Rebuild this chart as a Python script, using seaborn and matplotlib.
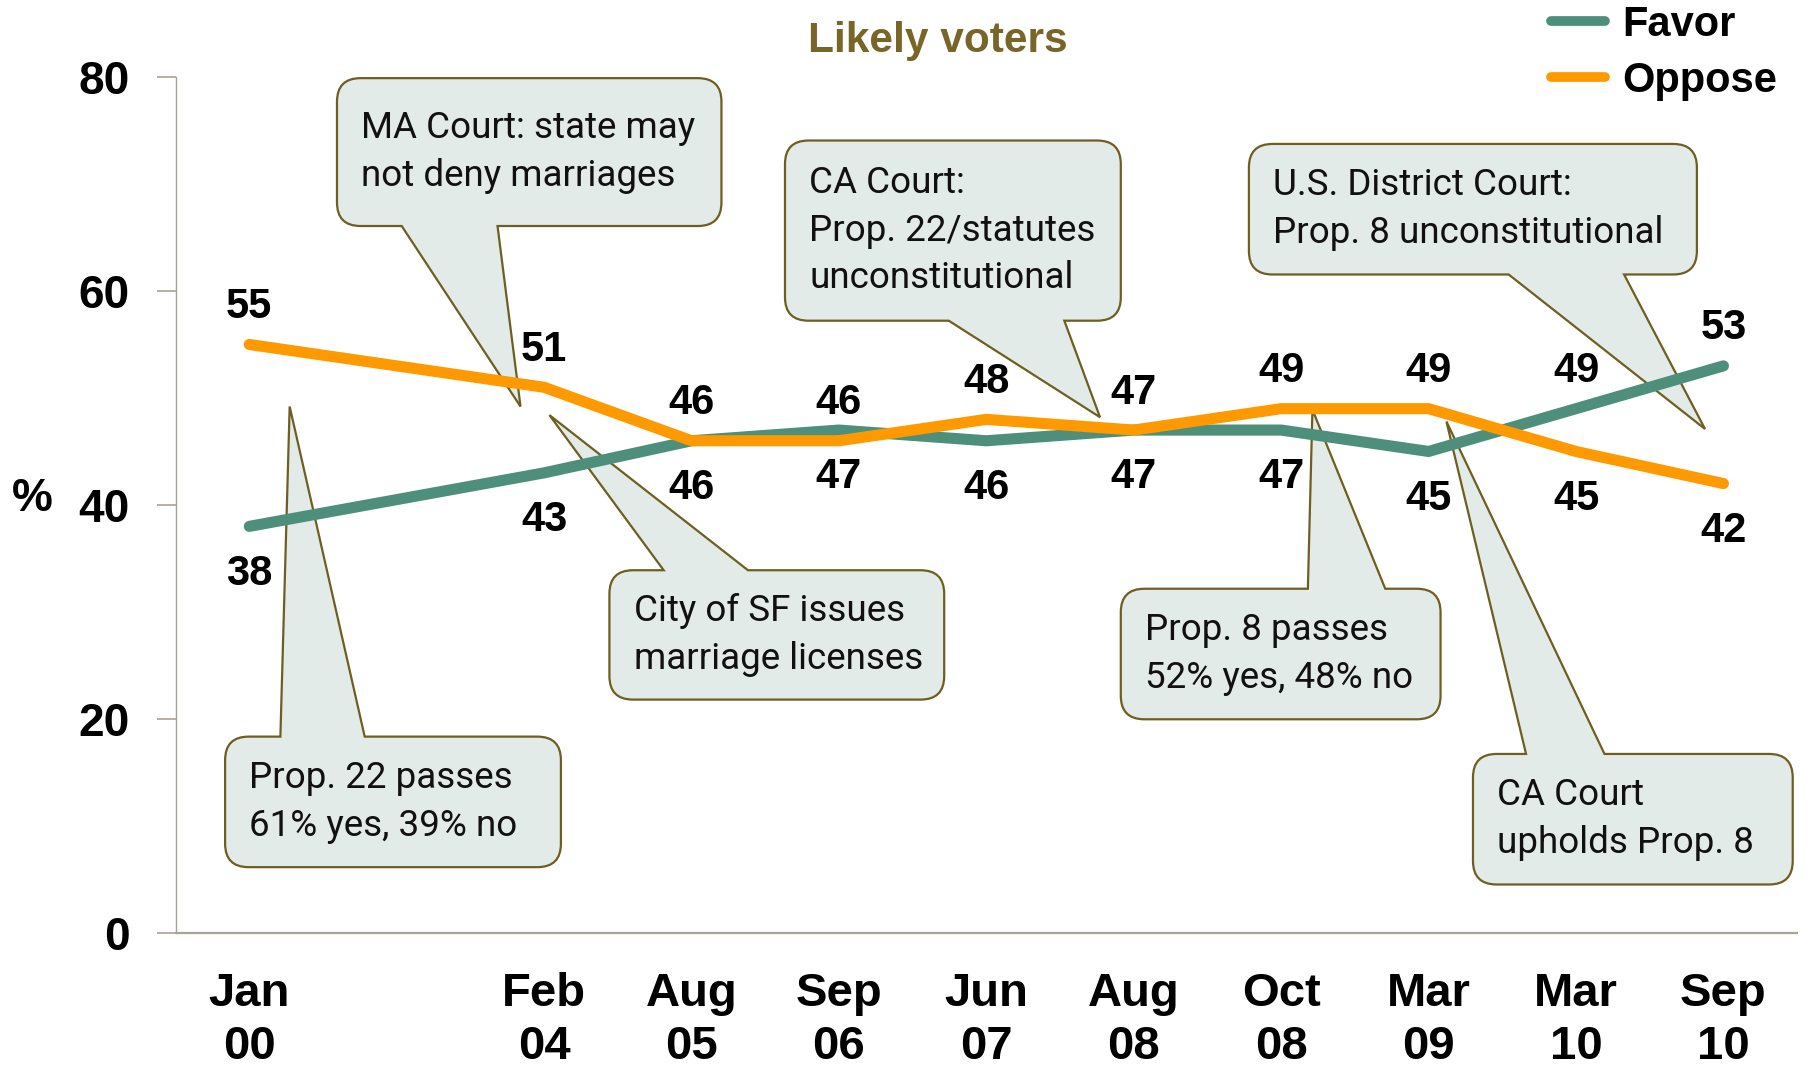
import matplotlib
matplotlib.use("Agg")
import matplotlib.pyplot as plt
from matplotlib.path import Path
from matplotlib.patches import PathPatch
import seaborn as sns
import pandas as pd
import numpy as np

# ---------------- data ----------------
categories = ["Jan\n00", "", "Feb\n04", "Aug\n05", "Sep\n06", "Jun\n07",
              "Aug\n08", "Oct\n08", "Mar\n09", "Mar\n10", "Sep\n10"]
favor = [38, None, 43, 46, 47, 46, 47, 47, 45, 49, 53]
oppose = [55, None, 51, 46, 46, 48, 47, 49, 49, 45, 42]
series_names = ["Favor", "Oppose"]
# which side of the line each value label sits on (as in the reference)
favor_label_side = ["below"] * 9 + ["above", "above"]
oppose_label_side = ["above"] * 9 + ["below", "below"]
y_ticks = [0, 20, 40, 60, 80]
title = "Likely voters"

callout_texts = [
    "Prop. 22 passes\n61% yes, 39% no",
    "MA Court: state may\nnot deny marriages",
    "City of SF issues\nmarriage licenses",
    "CA Court:\nProp. 22/statutes\nunconstitutional",
    "Prop. 8 passes\n52% yes, 48% no",
    "U.S. District Court:\nProp. 8 unconstitutional",
    "CA Court\nupholds Prop. 8",
]
# box (x0, x1, y0, y1) in data units, pointer side, pointer base x's, pointer tip
callout_boxes = [(-0.164, 2.114, 6.15, 18.35), (0.595, 3.203, 66.07, 79.89),
                 (2.443, 4.714, 21.81, 33.90), (3.634, 5.912, 57.22, 74.06),
                 (5.912, 8.081, 19.97, 32.17), (6.781, 9.820, 61.54, 73.74),
                 (8.301, 10.470, 4.53, 16.73)]
callout_sides = ["top", "bottom", "top", "bottom", "top", "bottom", "top"]
callout_bases = [(0.211, 0.783), (1.034, 1.684), (2.811, 3.383), (4.745, 5.529),
                 (7.181, 7.706), (8.543, 9.326), (8.661, 9.193)]
callout_tips = [(0.274, 49.2), (1.840, 49.2), (2.036, 48.4), (5.771, 48.2),
                (7.212, 48.9), (9.875, 47.1), (8.121, 47.8)]

# ---------------- style ----------------
GREEN = "#4E8F7C"
ORANGE = "#FF9900"
OLIVE = "#786528"
AXIS = "#A9A392"
BOX_FILL = "#E2EBE7"
BOX_EDGE = "#6F5E22"

sns.set_theme(style="white")
plt.rcParams["font.family"] = ["Liberation Sans", "DejaVu Sans"]
plt.rcParams["text.color"] = "black"
plt.rcParams["xtick.labelcolor"] = "black"
plt.rcParams["ytick.labelcolor"] = "black"

rows = []
for i, c in enumerate(categories):
    for name, vals in zip(series_names, [favor, oppose]):
        if vals[i] is not None:
            rows.append({"pos": i, "label": c, "series": name, "value": vals[i]})
df = pd.DataFrame(rows)

fig = plt.figure(figsize=(18.1, 10.66), dpi=100)
ax = fig.add_axes([0.0970, 0.1248, 0.8959, 0.8030])

# callouts (drawn beneath lines)
def callout_path(box, side, base, tip, rx=0.16, ry=2.2):
    x0, x1, y0, y1 = box
    v, c = [], []
    v.append((x0 + rx, y1)); c.append(Path.MOVETO)
    if side == "top":
        v += [(base[0], y1), tip, (base[1], y1)]; c += [Path.LINETO] * 3
    v += [(x1 - rx, y1), (x1, y1), (x1, y1 - ry)]; c += [Path.LINETO, Path.CURVE3, Path.CURVE3]
    v += [(x1, y0 + ry), (x1, y0), (x1 - rx, y0)]; c += [Path.LINETO, Path.CURVE3, Path.CURVE3]
    if side == "bottom":
        v += [(base[1], y0), tip, (base[0], y0)]; c += [Path.LINETO] * 3
    v += [(x0 + rx, y0), (x0, y0), (x0, y0 + ry)]; c += [Path.LINETO, Path.CURVE3, Path.CURVE3]
    v += [(x0, y1 - ry), (x0, y1), (x0 + rx, y1)]; c += [Path.LINETO, Path.CURVE3, Path.CURVE3]
    v.append((x0 + rx, y1)); c.append(Path.CLOSEPOLY)
    return Path(v, c)

for txt, box, side, base, tip in zip(callout_texts, callout_boxes, callout_sides,
                                     callout_bases, callout_tips):
    p = PathPatch(callout_path(box, side, base, tip), facecolor=BOX_FILL,
                  edgecolor=BOX_EDGE, linewidth=1.6, zorder=2, joinstyle="miter")
    ax.add_patch(p)
    ax.text(box[0] + 0.165, (box[2] + box[3]) / 2, txt, ha="left", va="center",
            fontsize=26.5, family=["Roboto", "DejaVu Sans"], color="#111111",
            linespacing=1.42, zorder=2.5)

sns.lineplot(data=df, x="pos", y="value", hue="series", palette=[GREEN, ORANGE],
             hue_order=series_names, linewidth=8, solid_capstyle="round",
             ax=ax, zorder=3, legend=True)

# data labels
for vals, sides in [(favor, favor_label_side), (oppose, oppose_label_side)]:
    for i, (v, s) in enumerate(zip(vals, sides)):
        if v is None:
            continue
        dy = 27 if s == "above" else -34
        ax.annotate(str(v), xy=(i, v), xytext=(0, dy), textcoords="offset points",
                    ha="center", va="center", fontsize=30, fontweight="bold",
                    color="black", zorder=4)

# axes
ax.set_xlim(-0.5, len(categories) - 0.5)
ax.set_ylim(0, 80)
ax.set_yticks(y_ticks)
ax.set_yticklabels([str(t) for t in y_ticks], fontsize=33, fontweight="bold")
ax.set_xticks(range(len(categories)))
ax.set_xticklabels(categories, fontsize=34, fontweight="bold", linespacing=1.28)
ax.set_xticks(np.arange(-0.5, len(categories)), minor=True)
ax.tick_params(axis="x", which="major", length=0, pad=28)
ax.tick_params(axis="x", which="minor", length=15, width=1.2, color=AXIS, direction="out")
ax.tick_params(axis="y", which="major", length=14, width=1.2, color=AXIS,
               direction="out", pad=19, left=True)
ax.set_xlabel("")
ax.set_ylabel("")
for s in ["top", "right"]:
    ax.spines[s].set_visible(False)
ax.spines["left"].set_color(AXIS)
ax.spines["left"].set_linewidth(1.0)
ax.spines["bottom"].set_color(AXIS)
ax.spines["bottom"].set_linewidth(1.6)
ax.grid(False)

# legend
handles, labels = ax.get_legend_handles_labels()
leg = ax.legend(handles, labels, loc="center left", bbox_to_anchor=(0.857, 0.9505),
                bbox_transform=fig.transFigure, frameon=False, borderpad=0,
                borderaxespad=0, handlelength=1.3, handletextpad=0.4,
                labelspacing=0.38, prop={"size": 30, "weight": "bold"})
for ln in leg.get_lines():
    ln.set_linewidth(7)
    ln.set_solid_capstyle("round")

fig.text(937.5 / 1810, 0.9515, title, ha="center", va="baseline", fontsize=30.5,
         fontweight="bold", color=OLIVE)
fig.text(32 / 1810, 1 - 499 / 1066, "%", ha="center", va="center", fontsize=33,
         fontweight="bold")

fig.savefig("out.png", dpi=100)
